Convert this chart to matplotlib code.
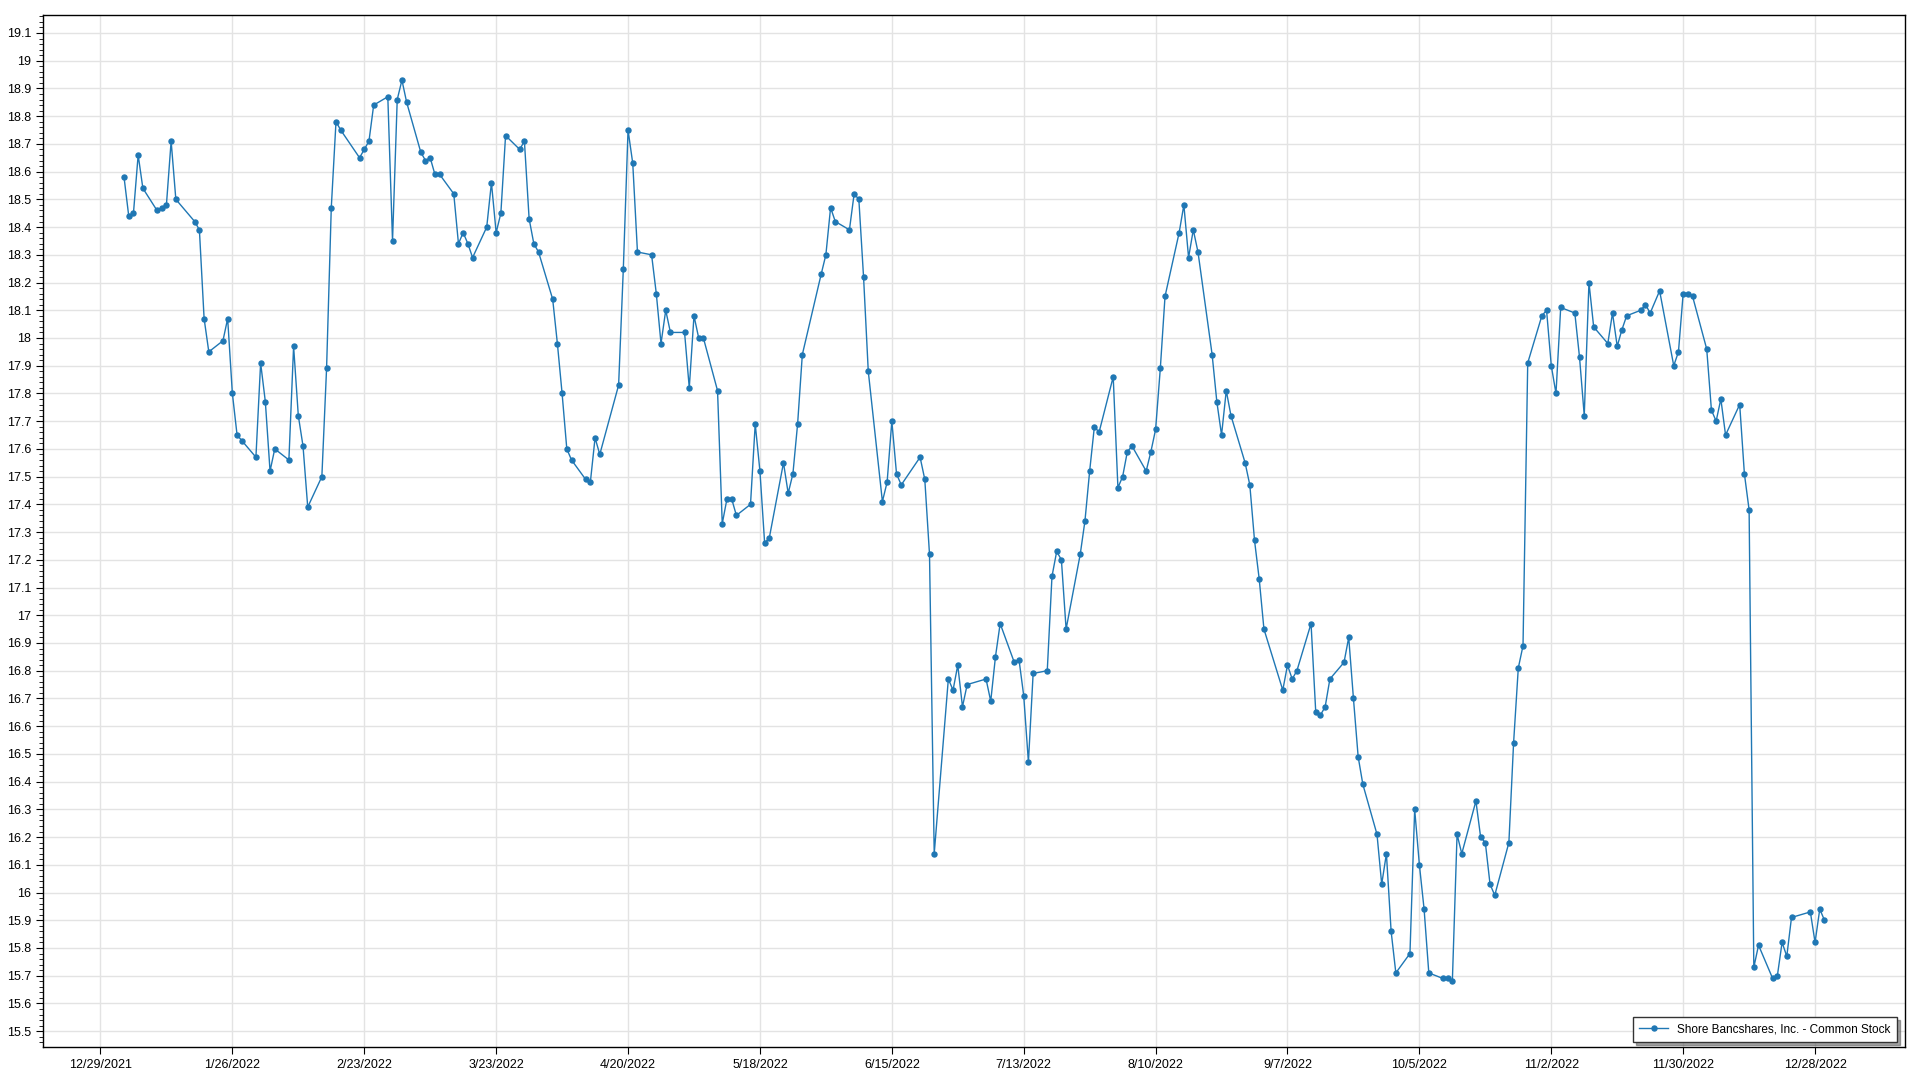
import pandas as pd
import matplotlib
matplotlib.use("Agg")
import matplotlib.pyplot as plt
import matplotlib.dates as mdates
from matplotlib.ticker import MultipleLocator, FixedLocator, FuncFormatter

series_name = "Shore Bancshares, Inc. - Common Stock"

dates = [
    "2022-01-03", "2022-01-04", "2022-01-05", "2022-01-06", "2022-01-07",
    "2022-01-10", "2022-01-11", "2022-01-12", "2022-01-13", "2022-01-14",
    "2022-01-18", "2022-01-19", "2022-01-20", "2022-01-21",
    "2022-01-24", "2022-01-25", "2022-01-26", "2022-01-27", "2022-01-28",
    "2022-01-31", "2022-02-01", "2022-02-02", "2022-02-03", "2022-02-04",
    "2022-02-07", "2022-02-08", "2022-02-09", "2022-02-10", "2022-02-11",
    "2022-02-14", "2022-02-15", "2022-02-16", "2022-02-17", "2022-02-18",
    "2022-02-22", "2022-02-23", "2022-02-24", "2022-02-25",
    "2022-02-28", "2022-03-01", "2022-03-02", "2022-03-03", "2022-03-04",
    "2022-03-07", "2022-03-08", "2022-03-09", "2022-03-10", "2022-03-11",
    "2022-03-14", "2022-03-15", "2022-03-16", "2022-03-17", "2022-03-18",
    "2022-03-21", "2022-03-22", "2022-03-23", "2022-03-24", "2022-03-25",
    "2022-03-28", "2022-03-29", "2022-03-30", "2022-03-31", "2022-04-01",
    "2022-04-04", "2022-04-05", "2022-04-06", "2022-04-07", "2022-04-08",
    "2022-04-11", "2022-04-12", "2022-04-13", "2022-04-14",
    "2022-04-18", "2022-04-19", "2022-04-20", "2022-04-21", "2022-04-22",
    "2022-04-25", "2022-04-26", "2022-04-27", "2022-04-28", "2022-04-29",
    "2022-05-02", "2022-05-03", "2022-05-04", "2022-05-05", "2022-05-06",
    "2022-05-09", "2022-05-10", "2022-05-11", "2022-05-12", "2022-05-13",
    "2022-05-16", "2022-05-17", "2022-05-18", "2022-05-19", "2022-05-20",
    "2022-05-23", "2022-05-24", "2022-05-25", "2022-05-26", "2022-05-27",
    "2022-05-31", "2022-06-01", "2022-06-02", "2022-06-03",
    "2022-06-06", "2022-06-07", "2022-06-08", "2022-06-09", "2022-06-10",
    "2022-06-13", "2022-06-14", "2022-06-15", "2022-06-16", "2022-06-17",
    "2022-06-21", "2022-06-22", "2022-06-23", "2022-06-24",
    "2022-06-27", "2022-06-28", "2022-06-29", "2022-06-30", "2022-07-01",
    "2022-07-05", "2022-07-06", "2022-07-07", "2022-07-08",
    "2022-07-11", "2022-07-12", "2022-07-13", "2022-07-14", "2022-07-15",
    "2022-07-18", "2022-07-19", "2022-07-20", "2022-07-21", "2022-07-22",
    "2022-07-25", "2022-07-26", "2022-07-27", "2022-07-28", "2022-07-29",
    "2022-08-01", "2022-08-02", "2022-08-03", "2022-08-04", "2022-08-05",
    "2022-08-08", "2022-08-09", "2022-08-10", "2022-08-11", "2022-08-12",
    "2022-08-15", "2022-08-16", "2022-08-17", "2022-08-18", "2022-08-19",
    "2022-08-22", "2022-08-23", "2022-08-24", "2022-08-25", "2022-08-26",
    "2022-08-29", "2022-08-30", "2022-08-31", "2022-09-01", "2022-09-02",
    "2022-09-06", "2022-09-07", "2022-09-08", "2022-09-09",
    "2022-09-12", "2022-09-13", "2022-09-14", "2022-09-15", "2022-09-16",
    "2022-09-19", "2022-09-20", "2022-09-21", "2022-09-22", "2022-09-23",
    "2022-09-26", "2022-09-27", "2022-09-28", "2022-09-29", "2022-09-30",
    "2022-10-03", "2022-10-04", "2022-10-05", "2022-10-06", "2022-10-07",
    "2022-10-10", "2022-10-11", "2022-10-12", "2022-10-13", "2022-10-14",
    "2022-10-17", "2022-10-18", "2022-10-19", "2022-10-20", "2022-10-21",
    "2022-10-24", "2022-10-25", "2022-10-26", "2022-10-27", "2022-10-28",
    "2022-10-31", "2022-11-01", "2022-11-02", "2022-11-03", "2022-11-04",
    "2022-11-07", "2022-11-08", "2022-11-09", "2022-11-10", "2022-11-11",
    "2022-11-14", "2022-11-15", "2022-11-16", "2022-11-17", "2022-11-18",
    "2022-11-21", "2022-11-22", "2022-11-23", "2022-11-25",
    "2022-11-28", "2022-11-29", "2022-11-30", "2022-12-01", "2022-12-02",
    "2022-12-05", "2022-12-06", "2022-12-07", "2022-12-08", "2022-12-09",
    "2022-12-12", "2022-12-13", "2022-12-14", "2022-12-15", "2022-12-16",
    "2022-12-19", "2022-12-20", "2022-12-21", "2022-12-22", "2022-12-23",
    "2022-12-27", "2022-12-28", "2022-12-29", "2022-12-30",
]

prices = [
    18.58, 18.44, 18.45, 18.66, 18.54,
    18.46, 18.47, 18.48, 18.71, 18.50,
    18.42, 18.39, 18.07, 17.95,
    17.99, 18.07, 17.80, 17.65, 17.63,
    17.57, 17.91, 17.77, 17.52, 17.60,
    17.56, 17.97, 17.72, 17.61, 17.39,
    17.50, 17.89, 18.47, 18.78, 18.75,
    18.65, 18.68, 18.71, 18.84,
    18.87, 18.35, 18.86, 18.93, 18.85,
    18.67, 18.64, 18.65, 18.59, 18.59,
    18.52, 18.34, 18.38, 18.34, 18.29,
    18.40, 18.56, 18.38, 18.45, 18.73,
    18.68, 18.71, 18.43, 18.34, 18.31,
    18.14, 17.98, 17.80, 17.60, 17.56,
    17.49, 17.48, 17.64, 17.58,
    17.83, 18.25, 18.75, 18.63, 18.31,
    18.30, 18.16, 17.98, 18.10, 18.02,
    18.02, 17.82, 18.08, 18.00, 18.00,
    17.81, 17.33, 17.42, 17.42, 17.36,
    17.40, 17.69, 17.52, 17.26, 17.28,
    17.55, 17.44, 17.51, 17.69, 17.94,
    18.23, 18.30, 18.47, 18.42,
    18.39, 18.52, 18.50, 18.22, 17.88,
    17.41, 17.48, 17.70, 17.51, 17.47,
    17.57, 17.49, 17.22, 16.14,
    16.77, 16.73, 16.82, 16.67, 16.75,
    16.77, 16.69, 16.85, 16.97,
    16.83, 16.84, 16.71, 16.47, 16.79,
    16.80, 17.14, 17.23, 17.20, 16.95,
    17.22, 17.34, 17.52, 17.68, 17.66,
    17.86, 17.46, 17.50, 17.59, 17.61,
    17.52, 17.59, 17.67, 17.89, 18.15,
    18.38, 18.48, 18.29, 18.39, 18.31,
    17.94, 17.77, 17.65, 17.81, 17.72,
    17.55, 17.47, 17.27, 17.13, 16.95,
    16.73, 16.82, 16.77, 16.80,
    16.97, 16.65, 16.64, 16.67, 16.77,
    16.83, 16.92, 16.70, 16.49, 16.39,
    16.21, 16.03, 16.14, 15.86, 15.71,
    15.78, 16.30, 16.10, 15.94, 15.71,
    15.69, 15.69, 15.68, 16.21, 16.14,
    16.33, 16.20, 16.18, 16.03, 15.99,
    16.18, 16.54, 16.81, 16.89, 17.91,
    18.08, 18.10, 17.90, 17.80, 18.11,
    18.09, 17.93, 17.72, 18.20, 18.04,
    17.98, 18.09, 17.97, 18.03, 18.08,
    18.10, 18.12, 18.09, 18.17,
    17.90, 17.95, 18.16, 18.16, 18.15,
    17.96, 17.74, 17.70, 17.78, 17.65,
    17.76, 17.51, 17.38, 15.73, 15.81,
    15.69, 15.70, 15.82, 15.77, 15.91,
    15.93, 15.82, 15.94, 15.90,
]

df = pd.DataFrame({"date": pd.to_datetime(dates), "price": prices})

blue = "#1f77b4"
plt.rcParams["font.family"] = ["Liberation Sans", "DejaVu Sans"]

fig = plt.figure(figsize=(19.2, 10.8), dpi=100)
ax = fig.add_axes([0.0224, 0.0306, 0.9698, 0.9558])

ax.plot(df["date"], df["price"], color=blue, lw=1.0, marker="o",
        markersize=3.6, label=series_name)

# axis ranges
start = pd.Timestamp("2021-12-29")
ax.set_xlim(start - pd.Timedelta(days=12.2), start + pd.Timedelta(days=383.1))
ax.set_ylim(15.443, 19.166)

# date ticks every 4 weeks
xticks = pd.date_range(start, periods=14, freq="28D")
ax.xaxis.set_major_locator(FixedLocator(mdates.date2num(xticks)))
ax.xaxis.set_major_formatter(FuncFormatter(
    lambda v, p: (lambda d: f"{d.month}/{d.day}/{d.year}")(mdates.num2date(v))))

ax.yaxis.set_major_locator(MultipleLocator(0.1))
ax.yaxis.set_minor_locator(MultipleLocator(0.02))
ax.yaxis.set_major_formatter(FuncFormatter(lambda v, p: f"{v:.1f}".rstrip("0").rstrip(".")))

ax.grid(True, which="major", color="#e3e3e3", lw=1.0)
ax.set_axisbelow(True)
ax.tick_params(axis="both", which="major", labelsize=9, colors="black",
               length=5, width=0.8, direction="out")
ax.tick_params(axis="y", which="minor", length=3, width=0.6, direction="out")
for s in ax.spines.values():
    s.set_color("black")
    s.set_linewidth(1.0)

leg = ax.legend(loc="lower right", bbox_to_anchor=(1 - 8 / 1862, 5 / 1032),
                fontsize=8.5, frameon=True, fancybox=False, shadow=True,
                edgecolor="#333333", borderaxespad=0, handlelength=2.4,
                borderpad=0.55)
leg.get_frame().set_linewidth(1.0)

fig.savefig("out.png", dpi=100)
